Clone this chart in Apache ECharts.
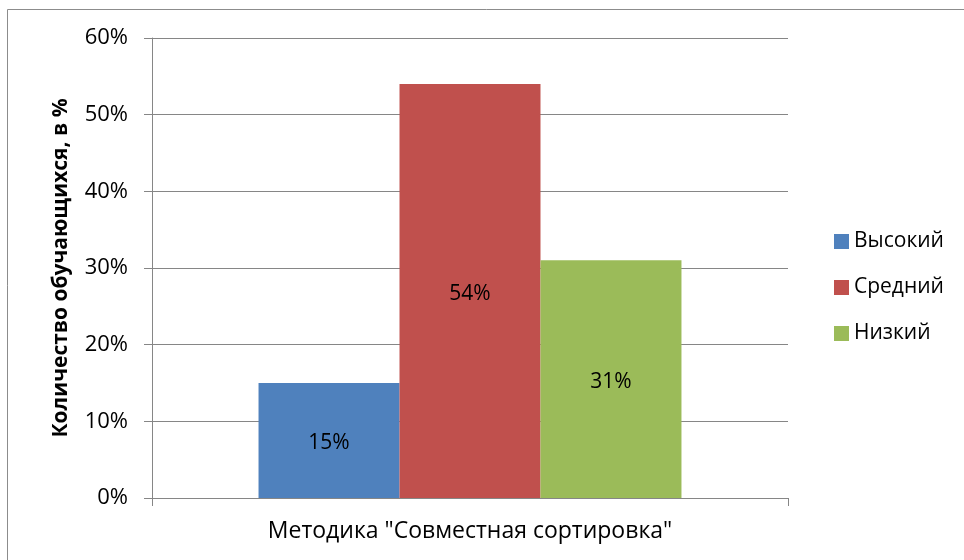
<!DOCTYPE html>
<html>
<head>
<meta charset="utf-8">
<script src="https://cdn.jsdelivr.net/npm/echarts@6/dist/echarts.min.js"></script>
<style>
  html, body { margin: 0; padding: 0; background: #fff; }
  #chart { width: 964px; height: 560px; }
</style>
</head>
<body>
<div id="chart"></div>
<script>
// данные диаграммы
var categories = ['Методика "Совместная сортировка"'];
var seriesNames = ['Высокий', 'Средний', 'Низкий'];
var seriesValues = [[15], [54], [31]];
var seriesColors = ['#4f81bd', '#c0504d', '#9bbb59'];
var yTicks = [0, 10, 20, 30, 40, 50, 60];

var font = '"Open Sans", "Noto Sans", sans-serif';
var axisGray = '#868686';

var chart = echarts.init(document.getElementById('chart'));

var series = seriesNames.map(function (name, i) {
    return {
        name: name,
        type: 'bar',
        data: seriesValues[i],
        barGap: 0,
        barCategoryGap: '33.5%',
        itemStyle: { color: seriesColors[i] },
        label: {
            show: true,
            position: 'inside',
            offset: [0, 3],
            formatter: '{c}%',
            color: '#000',
            fontSize: 21,
            fontFamily: font
        }
    };
});

var option = {
    animation: false,
    backgroundColor: '#fff',
    graphic: [{
        type: 'rect',
        shape: { x: 7.5, y: 9.5, width: 1000, height: 1000 },
        style: { fill: 'none', stroke: '#8c8c8c', lineWidth: 1 },
        silent: true
    }],
    grid: { left: 152, right: 176, top: 38, bottom: 62 },
    legend: {
        data: seriesNames,
        orient: 'vertical',
        left: 829,
        top: 226,
        itemWidth: 15,
        itemHeight: 15,
        itemGap: 25,
        icon: 'rect',
        textStyle: { fontSize: 21, fontFamily: font, color: '#000' }
    },
    xAxis: {
        type: 'category',
        data: categories,
        axisLine: { lineStyle: { color: axisGray } },
        axisTick: { show: true, length: 8, lineStyle: { color: axisGray } },
        axisLabel: { margin: 22, fontSize: 23, fontFamily: font, color: '#000' }
    },
    yAxis: {
        type: 'value',
        min: yTicks[0],
        max: yTicks[yTicks.length - 1],
        interval: 10,
        name: 'Количество обучающихся, в %',
        nameLocation: 'middle',
        nameGap: 80,
        nameRotate: 90,
        nameTextStyle: { fontSize: 21, fontWeight: 'bold', fontFamily: font, color: '#000' },
        axisLine: { show: true, lineStyle: { color: axisGray } },
        axisTick: { show: true, length: 8, lineStyle: { color: axisGray } },
        axisLabel: { formatter: '{value}%', margin: 24, fontSize: 22, fontFamily: font, color: '#000' },
        splitLine: { lineStyle: { color: axisGray } }
    },
    series: series
};

chart.setOption(option);
</script>
</body>
</html>
